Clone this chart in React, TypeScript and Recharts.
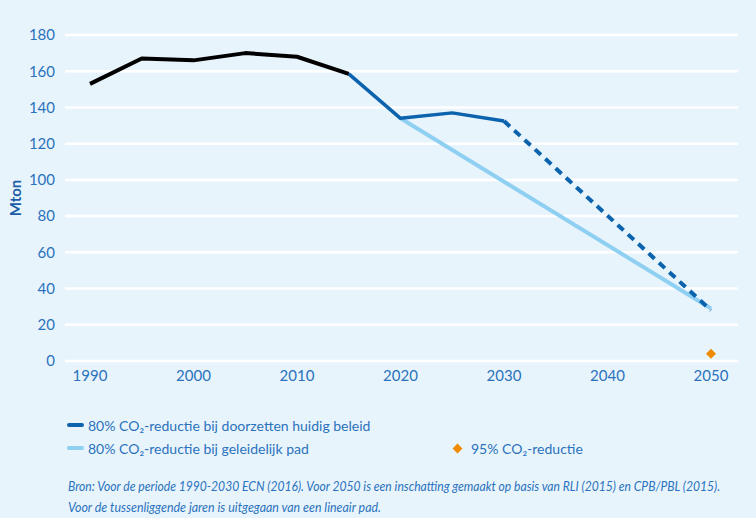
import React from 'react';
import { ComposedChart, Line, Scatter, XAxis, YAxis, CartesianGrid } from 'recharts';

const historicYears = [1990, 1995, 2000, 2005, 2010, 2015];
const historicValues = [153, 167, 166, 170, 168, 158.5];

const policyYears = [2015, 2020, 2025, 2030];
const policyValues = [158.5, 134, 137, 132.5];

const policyProjectionYears = [2030, 2050];
const policyProjectionValues = [132.5, 28];

const gradualYears = [2020, 2050];
const gradualValues = [134, 29];

const reduction95Years = [2050];
const reduction95Values = [4];

const xTicks = [1990, 2000, 2010, 2020, 2030, 2040, 2050];
const yTicks = [0, 20, 40, 60, 80, 100, 120, 140, 160, 180];

const legendLabels = [
  '80% CO₂-reductie bij doorzetten huidig beleid',
  '80% CO₂-reductie bij geleidelijk pad',
  '95% CO₂-reductie',
];
const sourceLines = [
  'Bron: Voor de periode 1990-2030 ECN (2016). Voor 2050 is een inschatting gemaakt op basis van RLI (2015) en CPB/PBL (2015).',
  'Voor de tussenliggende jaren is uitgegaan van een lineair pad.',
];
const sourceWidths = [652, 313];

const toRows = (xs: number[], ys: number[]) => xs.map((x, i) => ({ year: x, value: ys[i] }));

const BG = '#e8f4fc';
const TEXT = '#2a72bd';
const DARK = '#0b62ad';
const LIGHT = '#8fd0f2';
const ORANGE = '#f08a00';
const FONT = 'Lato, "Noto Sans", sans-serif';

const DiamondShape = (props: any) => {
  const { cx, cy } = props;
  const r = 5;
  return <polygon points={`${cx},${cy - r} ${cx + r},${cy} ${cx},${cy + r} ${cx - r},${cy}`} fill={ORANGE} />;
};

export default function App() {
  return (
    <div style={{ position: 'absolute', left: 0, top: 0, width: 756, height: 518, background: BG, fontFamily: FONT, overflow: 'hidden' }}>
      <ComposedChart width={756} height={400} margin={{ top: 35, right: 18, bottom: 9, left: 0 }}>
        <CartesianGrid vertical={false} stroke="#ffffff" strokeWidth={2.5} />
        <XAxis
          dataKey="year"
          type="number"
          domain={[1990, 2050]}
          ticks={xTicks}
          padding={{ left: 25, right: 27 }}
          axisLine={false}
          tickLine={false}
          tickSize={0}
          tickMargin={9}
          height={30}
          allowDuplicatedCategory={false}
          tick={{ fill: TEXT, fontSize: 15, fontFamily: FONT }}
        />
        <YAxis
          dataKey="value"
          type="number"
          domain={[0, 180]}
          ticks={yTicks}
          width={65}
          axisLine={false}
          tickLine={false}
          tickSize={0}
          tickMargin={10}
          tick={{ fill: TEXT, fontSize: 15, fontFamily: FONT }}
          label={{
            value: 'Mton',
            angle: -90,
            position: 'insideLeft',
            offset: 16,
            style: { textAnchor: 'middle', fill: '#1a5ea8', fontWeight: 700, fontSize: 15, fontFamily: FONT },
          }}
        />
        <Line
          data={toRows(gradualYears, gradualValues)}
          dataKey="value"
          stroke={LIGHT}
          strokeWidth={4}
          dot={false}
          activeDot={false}
          isAnimationActive={false}
        />
        <Line
          data={toRows(policyYears, policyValues)}
          dataKey="value"
          stroke={DARK}
          strokeWidth={3.5}
          strokeLinejoin="round"
          dot={false}
          activeDot={false}
          isAnimationActive={false}
        />
        <Line
          data={toRows(policyProjectionYears, policyProjectionValues)}
          dataKey="value"
          stroke={DARK}
          strokeWidth={4}
          strokeDasharray="8 6"
          dot={false}
          activeDot={false}
          isAnimationActive={false}
        />
        <Line
          data={toRows(historicYears, historicValues)}
          dataKey="value"
          stroke="#000000"
          strokeWidth={4}
          strokeLinejoin="round"
          dot={false}
          activeDot={false}
          isAnimationActive={false}
        />
        <Scatter
          data={toRows(reduction95Years, reduction95Values)}
          dataKey="value"
          fill={ORANGE}
          shape={DiamondShape}
          isAnimationActive={false}
        />
      </ComposedChart>

      <div style={{ position: 'absolute', left: 67, top: 416, height: 18, display: 'flex', alignItems: 'center' }}>
        <span style={{ display: 'inline-block', width: 17, height: 4, borderRadius: 2, background: DARK, marginRight: 4 }} />
        <span style={{ color: TEXT, fontSize: 14 }}>{legendLabels[0]}</span>
      </div>
      <div style={{ position: 'absolute', left: 67, top: 439, height: 18, display: 'flex', alignItems: 'center' }}>
        <span style={{ display: 'inline-block', width: 17, height: 4, borderRadius: 2, background: LIGHT, marginRight: 4 }} />
        <span style={{ color: TEXT, fontSize: 14 }}>{legendLabels[1]}</span>
      </div>
      <div style={{ position: 'absolute', left: 452, top: 439, height: 18, display: 'flex', alignItems: 'center' }}>
        <span style={{ display: 'inline-block', width: 7, height: 7, background: ORANGE, transform: 'rotate(45deg)', marginRight: 10, marginLeft: 2 }} />
        <span style={{ color: TEXT, fontSize: 14 }}>{legendLabels[2]}</span>
      </div>

      <svg width={756} height={44} style={{ position: 'absolute', left: 0, top: 472 }}>
        {sourceLines.map((l, i) => (
          <text
            key={i}
            x={68}
            y={19 + i * 21}
            textLength={sourceWidths[i]}
            lengthAdjust="spacingAndGlyphs"
            fill={TEXT}
            fontSize={12.5}
            fontStyle="italic"
            fontFamily={FONT}
          >
            {l}
          </text>
        ))}
      </svg>
    </div>
  );
}
